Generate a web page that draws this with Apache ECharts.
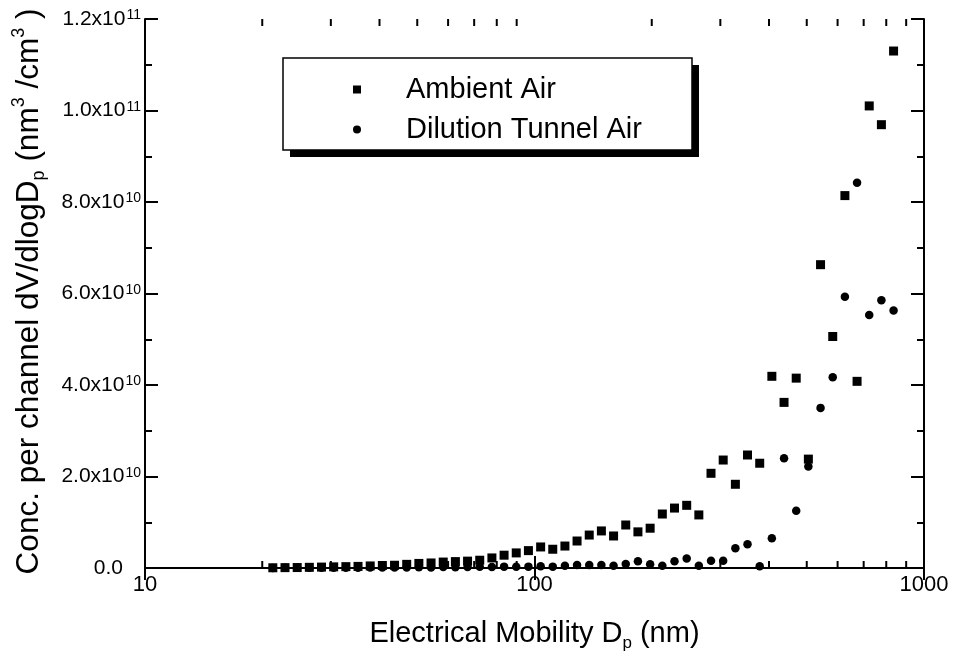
<!DOCTYPE html>
<html>
<head>
<meta charset="utf-8">
<script src="https://cdn.jsdelivr.net/npm/echarts@6/dist/echarts.min.js"></script>
<style>
  html, body { margin: 0; padding: 0; background: #fff; }
  #chart { width: 953px; height: 657px; }
</style>
</head>
<body>
<div id="chart"></div>
<script>
// Electrical mobility diameter of each SMPS channel (nm), 32 channels per decade
const diameters = [
  21.29, 22.88, 24.59, 26.42, 28.39, 30.51, 32.79, 35.23, 37.86, 40.68,
  43.72, 46.98, 50.48, 54.25, 58.30, 62.65, 67.32, 72.34, 77.74, 83.54,
  89.77, 96.47, 103.7, 111.4, 119.7, 128.6, 138.2, 148.5, 159.6, 171.5,
  184.3, 198.1, 212.9, 228.8, 245.9, 264.2, 283.9, 305.1, 327.9, 352.3,
  378.6, 406.8, 437.2, 469.8, 504.8, 542.5, 583.0, 626.5, 673.2, 723.4,
  777.4, 835.4
];

// dV/dlogDp per channel, nm^3/cm^3
const ambientAir = [
  0.05e9, 0.08e9, 0.10e9, 0.15e9, 0.20e9, 0.25e9, 0.30e9, 0.35e9, 0.45e9, 0.55e9,
  0.60e9, 0.80e9, 1.0e9, 1.1e9, 1.3e9, 1.4e9, 1.5e9, 1.7e9, 2.2e9, 2.8e9,
  3.3e9, 3.8e9, 4.6e9, 4.1e9, 4.8e9, 5.9e9, 7.2e9, 8.1e9, 7.0e9, 9.4e9,
  7.9e9, 8.7e9, 11.8e9, 13.1e9, 13.7e9, 11.6e9, 20.7e9, 23.6e9, 18.3e9, 24.7e9,
  22.9e9, 41.9e9, 36.2e9, 41.5e9, 23.8e9, 66.3e9, 50.6e9, 81.4e9, 40.8e9, 101.0e9,
  96.9e9, 113.0e9
];

const dilutionTunnelAir = [
  0.02e9, 0.03e9, 0.03e9, 0.05e9, 0.05e9, 0.06e9, 0.08e9, 0.08e9, 0.10e9, 0.10e9,
  0.12e9, 0.10e9, 0.15e9, 0.12e9, 0.20e9, 0.15e9, 0.20e9, 0.25e9, 0.20e9, 0.30e9,
  0.25e9, 0.30e9, 0.40e9, 0.30e9, 0.50e9, 0.65e9, 0.65e9, 0.65e9, 0.50e9, 0.90e9,
  1.5e9, 0.8e9, 0.5e9, 1.5e9, 2.1e9, 0.5e9, 1.6e9, 1.6e9, 4.3e9, 5.2e9,
  0.4e9, 6.5e9, 24.0e9, 12.5e9, 22.2e9, 35.0e9, 41.7e9, 59.3e9, 84.2e9, 55.3e9,
  58.5e9, 56.3e9
];

// Axis ranges and the log-axis minor tick values
const xRange = [10, 1000];
const yRange = [0, 1.2e11];
const yStep = 2e10;
const xMinorTicks = [20, 30, 40, 50, 60, 70, 80, 90, 200, 300, 400, 500, 600, 700, 800, 900];

const FONT = '"Liberation Sans", Arial, Helvetica, sans-serif';

function pairs(xs, ys) {
  return xs.map((x, i) => [x, ys[i]]);
}

function sciLabel(v) {
  if (v === 0) return '{zero|0.0}';
  const e = Math.floor(Math.log10(v) + 1e-9);
  const m = v / Math.pow(10, e);
  return m.toFixed(1) + 'x10{sup|' + e + '}';
}

const chart = echarts.init(document.getElementById('chart'), null, { renderer: 'canvas' });

const axisLine = { show: true, lineStyle: { color: '#000', width: 2 } };

// legend frame with its offset drop shadow
const frame = { x: 283, y: 58, w: 409, h: 92, shadow: 7 };

chart.setOption({
  animation: false,
  backgroundColor: '#fff',
  textStyle: { fontFamily: FONT },
  grid: { left: 145, right: 29, top: 19, bottom: 89, containLabel: false, outerBoundsMode: 'none' },
  graphic: [
    {
      type: 'rect', z: 5, silent: true,
      shape: { x: frame.x + frame.shadow, y: frame.y + frame.shadow, width: frame.w, height: frame.h },
      style: { fill: '#000' }
    },
    {
      type: 'rect', z: 6, silent: true,
      shape: { x: frame.x, y: frame.y, width: frame.w, height: frame.h },
      style: { fill: '#fff', stroke: '#000', lineWidth: 1.5 }
    }
  ],
  legend: {
    orient: 'vertical',
    left: frame.x,
    top: frame.y,
    z: 10,
    padding: [17, 10, 6, 70],
    itemGap: 11,
    itemWidth: 8,
    itemHeight: 8,
    itemStyle: { opacity: 1 },
    textStyle: { fontSize: 29, color: '#000', fontFamily: FONT, padding: [0, 0, 0, 40] },
    data: [
      { name: 'Ambient Air', icon: 'rect' },
      { name: 'Dilution Tunnel Air', icon: 'circle' }
    ]
  },
  xAxis: [
    {
      type: 'log',
      logBase: 10,
      min: xRange[0],
      max: xRange[1],
      position: 'bottom',
      name: 'Electrical Mobility D{sub|p} (nm)',
      nameLocation: 'middle',
      nameGap: 48,
      nameTextStyle: {
        fontSize: 29, color: '#000', fontFamily: FONT, lineHeight: 36,
        rich: {
          sub: { fontSize: 17, verticalAlign: 'bottom', fontFamily: FONT, color: '#000' }
        }
      },
      axisLine: axisLine,
      axisTick: { show: true, inside: true, length: 12, lineStyle: { color: '#000', width: 2 } },
      axisLabel: {
        fontSize: 22, color: '#000', margin: 6, fontFamily: FONT,
        formatter: v => String(Math.round(v))
      },
      splitLine: { show: false }
    },
    {
      type: 'log',
      logBase: 10,
      min: xRange[0],
      max: xRange[1],
      position: 'top',
      axisLine: axisLine,
      axisTick: { show: true, inside: true, length: 12, lineStyle: { color: '#000', width: 2 } },
      axisLabel: { show: false },
      splitLine: { show: false }
    }
  ],
  yAxis: [
    {
      type: 'value',
      min: yRange[0],
      max: yRange[1],
      interval: yStep,
      position: 'left',
      name: 'Conc. per channel dV/dlogD{sub|p} (nm{sup|3} /cm{sup|3} )',
      nameLocation: 'middle',
      nameGap: 97,
      nameRotate: 90,
      nameTextStyle: {
        fontSize: 31.5, color: '#000', fontFamily: FONT, lineHeight: 38,
        padding: [0, 0, 0, 4],
        rich: {
          sub: { fontSize: 18, verticalAlign: 'bottom', fontFamily: FONT, color: '#000' },
          sup: { fontSize: 18, verticalAlign: 'top', fontFamily: FONT, color: '#000' }
        }
      },
      axisLine: axisLine,
      axisTick: { show: true, inside: true, length: 13, lineStyle: { color: '#000', width: 2 } },
      minorTick: { show: true, splitNumber: 2, length: 7, lineStyle: { color: '#000', width: 2 } },
      axisLabel: {
        fontSize: 21, color: '#000', margin: 4, fontFamily: FONT,
        formatter: sciLabel,
        rich: {
          sup: { fontSize: 14, verticalAlign: 'top', fontFamily: FONT, color: '#000', padding: [0, 0, 0, 1] },
          zero: { fontSize: 21, fontFamily: FONT, color: '#000', padding: [0, 18, 0, 0] }
        }
      },
      splitLine: { show: false },
      minorSplitLine: { show: false }
    },
    {
      type: 'value',
      min: yRange[0],
      max: yRange[1],
      interval: yStep,
      position: 'right',
      axisLine: axisLine,
      axisTick: { show: true, inside: true, length: 13, lineStyle: { color: '#000', width: 2 } },
      minorTick: { show: true, splitNumber: 2, length: 7, lineStyle: { color: '#000', width: 2 } },
      axisLabel: { show: false },
      splitLine: { show: false },
      minorSplitLine: { show: false }
    }
  ],
  series: [
    {
      name: 'Ambient Air',
      type: 'scatter',
      symbol: 'rect',
      symbolSize: 9,
      itemStyle: { color: '#000', opacity: 1 },
      data: pairs(diameters, ambientAir),
      z: 3
    },
    {
      name: 'Dilution Tunnel Air',
      type: 'scatter',
      symbol: 'circle',
      symbolSize: 8.5,
      itemStyle: { color: '#000', opacity: 1 },
      data: pairs(diameters, dilutionTunnelAir),
      z: 3
    },
    {
      // short minor ticks on the bottom and top log axes
      type: 'custom',
      silent: true,
      clip: false,
      legendHoverLink: false,
      data: xMinorTicks.map(v => [v, 0]),
      renderItem: function (params, api) {
        const v = api.value(0);
        const b = api.coord([v, yRange[0]]);
        const t = api.coord([v, yRange[1]]);
        const style = { stroke: '#000', lineWidth: 2 };
        return {
          type: 'group',
          children: [
            { type: 'line', shape: { x1: b[0], y1: b[1], x2: b[0], y2: b[1] - 7 }, style: style },
            { type: 'line', shape: { x1: t[0], y1: t[1], x2: t[0], y2: t[1] + 7 }, style: style }
          ]
        };
      },
      z: 2
    }
  ]
});
</script>
</body>
</html>
